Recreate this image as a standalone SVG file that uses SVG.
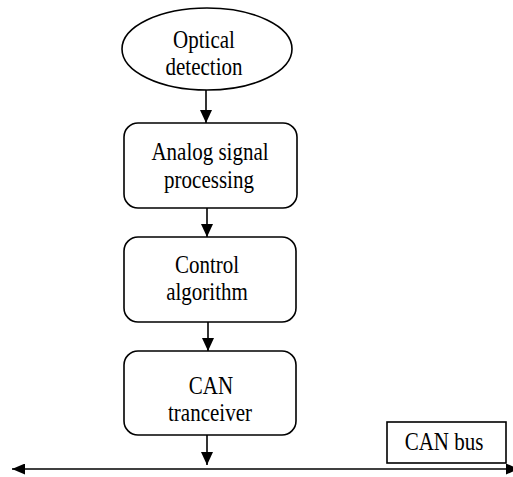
<svg xmlns="http://www.w3.org/2000/svg" width="513" height="477" viewBox="0 0 513 477">
<defs>
<style>
.n{fill:#fff;stroke:#000;stroke-width:1.6}
.t{font-family:"Liberation Serif","Times New Roman",serif;font-size:21px;fill:#000;text-anchor:middle}
.c{stroke:#000;stroke-width:1.6;fill:none}
</style>
<marker id="ah" viewBox="0 0 13 12" refX="13" refY="6" markerWidth="13" markerHeight="12" markerUnits="userSpaceOnUse" orient="auto">
<path d="M0,0 L13,6 L0,12 Z" fill="#000"/>
</marker>
<marker id="bh" viewBox="0 0 13 11" refX="13" refY="5.5" markerWidth="13" markerHeight="11" markerUnits="userSpaceOnUse" orient="auto-start-reverse">
<path d="M0,0 L13,5.5 L0,11 Z" fill="#000"/>
</marker>
</defs>
<rect width="513" height="477" fill="#fff"/>
<g id="optical">
<ellipse class="n" cx="207" cy="49" rx="85" ry="41"/>
<text class="t" transform="translate(204,48) scale(1,1.2)">Optical</text>
<text class="t" transform="translate(204,75) scale(1,1.2)">detection</text>
</g>
<g id="analog">
<rect class="n" x="124" y="123" width="173" height="85" rx="14"/>
<text class="t" transform="translate(210,160) scale(1,1.2)">Analog signal</text>
<text class="t" transform="translate(209,188) scale(1,1.2)">processing</text>
</g>
<g id="control">
<rect class="n" x="124" y="237" width="172" height="85" rx="14"/>
<text class="t" transform="translate(207,273) scale(1,1.2)">Control</text>
<text class="t" transform="translate(207,300) scale(1,1.2)">algorithm</text>
</g>
<g id="can">
<rect class="n" x="124" y="351" width="172" height="84" rx="14"/>
<text class="t" transform="translate(211,394) scale(1,1.2)">CAN</text>
<text class="t" transform="translate(210,421) scale(1,1.2)">tranceiver</text>
</g>
<g id="canbus">
<rect class="n" x="387" y="422" width="119" height="41"/>
<text class="t" transform="translate(444,450) scale(1,1.2)">CAN bus</text>
</g>
<g id="connectors">
<line class="c" x1="206" y1="90" x2="206" y2="123" marker-end="url(#ah)"/>
<line class="c" x1="207" y1="208" x2="207" y2="237" marker-end="url(#ah)"/>
<line class="c" x1="208" y1="322" x2="208" y2="351" marker-end="url(#ah)"/>
<line class="c" x1="207" y1="435" x2="207" y2="465" marker-end="url(#ah)"/>
<line class="c" x1="12" y1="469" x2="519" y2="469" marker-start="url(#bh)" marker-end="url(#bh)"/>
</g>
</svg>
